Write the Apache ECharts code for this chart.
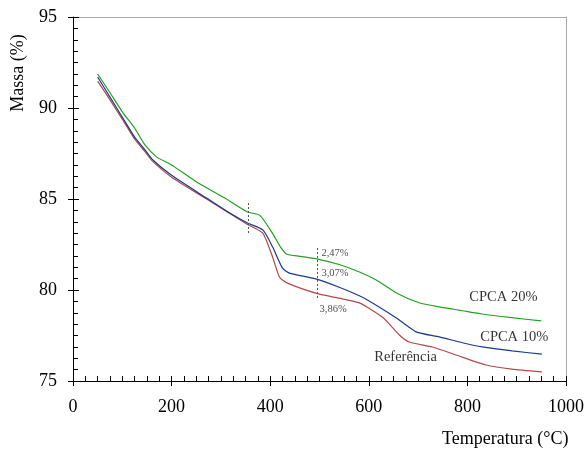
<!DOCTYPE html>
<html>
<head>
<meta charset="utf-8">
<script src="https://cdn.jsdelivr.net/npm/echarts@6/dist/echarts.min.js"></script>
<style>
html,body{margin:0;padding:0;background:#fff;}
#chart{width:587px;height:449px;}
</style>
</head>
<body>
<div id="chart"></div>
<script>
// ---- data ----
const tempCPCA20 = [50, 75, 101, 125, 146, 170, 200, 250, 308, 354, 379, 405, 420, 433, 460, 496, 540, 581, 615, 656, 702, 743, 790, 830, 890, 950];
const massCPCA20 = [91.87, 90.84, 89.75, 88.9, 87.97, 87.3, 86.87, 85.95, 85.05, 84.29, 84.1, 83.1, 82.4, 81.98, 81.85, 81.7, 81.4, 80.99, 80.55, 79.84, 79.3, 79.07, 78.86, 78.68, 78.48, 78.3];

const tempCPCA10 = [50, 75, 101, 125, 146, 162, 200, 271, 318, 354, 385, 405, 425, 439, 494, 540, 587, 620, 656, 696, 743, 790, 830, 891, 951];
const massCPCA10 = [91.7, 90.6, 89.45, 88.4, 87.7, 87.14, 86.3, 85.05, 84.23, 83.68, 83.3, 82.36, 81.2, 80.93, 80.6, 80.15, 79.6, 79.08, 78.46, 77.7, 77.42, 77.1, 76.87, 76.65, 76.48];

const tempRef = [50, 75, 101, 125, 146, 162, 200, 271, 318, 354, 385, 405, 419, 435, 496, 540, 581, 628, 662, 682, 729, 777, 838, 890, 951];
const massRef = [91.48, 90.45, 89.35, 88.3, 87.6, 87.05, 86.2, 85.0, 84.2, 83.6, 83.13, 81.8, 80.7, 80.38, 79.8, 79.55, 79.29, 78.5, 77.53, 77.14, 76.87, 76.43, 75.88, 75.65, 75.5];

const seriesNames = ['CPCA 20%', 'CPCA 10%', 'Referência'];

const xTicks = [0, 200, 400, 600, 800, 1000];
const yTicks = [75, 80, 85, 90, 95];

// vertical dotted markers
const markerTemp = [355, 496];
const markerTop = [84.78, 82.31];
const markerBottom = [83.02, 79.56];

// percentage annotations
const annoTemp = [504, 504, 500];
const annoMass = [82.0, 80.9, 78.95];
const annoText = ['2,47%', '3,07%', '3,86%'];

// curve name labels
const nameTemp = [804, 826, 611];
const nameMass = [79.6, 77.42, 76.32];

// ---- chart ----
const FONT = '"Liberation Serif", "Times New Roman", serif';
const colors = ['#22a022', '#1c3a8c', '#b5484a'];

function zip(xs, ys) { return xs.map((x, i) => [x, ys[i]]); }

const chart = echarts.init(document.getElementById('chart'), null, {renderer: 'canvas'});

const xRange = {type: 'value', min: xTicks[0], max: xTicks[xTicks.length - 1], interval: 200, splitLine: {show: false}};
const yRange = {type: 'value', min: yTicks[0], max: yTicks[yTicks.length - 1], interval: 5, splitLine: {show: false}};

const option = {
  animation: false,
  backgroundColor: '#fff',
  grid: {left: 73, right: 20, top: 17, bottom: 68, show: false},
  xAxis: [
    Object.assign({}, xRange, {
      position: 'bottom', z: 5,
      axisLine: {show: true, onZero: false, lineStyle: {color: '#000', width: 1}},
      axisTick: {show: true, inside: true, length: 5, lineStyle: {color: '#000', width: 1}},
      minorTick: {show: true, splitNumber: 8, length: 5, lineStyle: {color: '#000', width: 1}},
      axisLabel: {show: true, color: '#000', fontFamily: FONT, fontSize: 18, margin: 17,
        formatter: v => String(v)}
    }),
    Object.assign({}, xRange, {
      position: 'top',
      axisLine: {show: true, onZero: false, lineStyle: {color: '#a8a8a8', width: 1}},
      axisTick: {show: false}, axisLabel: {show: false}
    }),
    Object.assign({}, xRange, {
      position: 'bottom', z: 5,
      axisLine: {show: false, onZero: false},
      axisTick: {show: true, inside: false, length: 5, lineStyle: {color: '#000', width: 1}},
      axisLabel: {show: false}
    })
  ],
  yAxis: [
    Object.assign({}, yRange, {
      position: 'left', z: 5,
      axisLine: {show: true, onZero: false, lineStyle: {color: '#000', width: 1}},
      axisTick: {show: true, inside: true, length: 6, lineStyle: {color: '#000', width: 1}},
      minorTick: {show: true, splitNumber: 8, length: 5, lineStyle: {color: '#000', width: 1}},
      axisLabel: {show: true, color: '#000', fontFamily: FONT, fontSize: 18, margin: 16,
        formatter: v => String(v)}
    }),
    Object.assign({}, yRange, {
      position: 'right',
      axisLine: {show: true, onZero: false, lineStyle: {color: '#a8a8a8', width: 1}},
      axisTick: {show: false}, axisLabel: {show: false}
    }),
    Object.assign({}, yRange, {
      position: 'left', z: 5,
      axisLine: {show: false, onZero: false},
      axisTick: {show: true, inside: false, length: 5, lineStyle: {color: '#000', width: 1}},
      axisLabel: {show: false}
    })
  ],
  series: [
    {
      name: seriesNames[0], type: 'line', data: zip(tempCPCA20, massCPCA20),
      showSymbol: false, smooth: 0.2,
      lineStyle: {color: colors[0], width: 1.2}, z: 3
    },
    {
      name: seriesNames[1], type: 'line', data: zip(tempCPCA10, massCPCA10),
      showSymbol: false, smooth: 0.2,
      lineStyle: {color: colors[1], width: 1.2}, z: 4
    },
    {
      name: seriesNames[2], type: 'line', data: zip(tempRef, massRef),
      showSymbol: false, smooth: 0.2,
      lineStyle: {color: colors[2], width: 1.2}, z: 2,
      markLine: {
        silent: true, symbol: ['none', 'none'], label: {show: false},
        lineStyle: {color: '#555', type: [2, 2], width: 1},
        data: markerTemp.map((t, i) => [{coord: [t, markerTop[i]]}, {coord: [t, markerBottom[i]]}])
      }
    },
    {type: 'line', xAxisIndex: 1, yAxisIndex: 1, data: [], showSymbol: false},
    {type: 'line', xAxisIndex: 2, yAxisIndex: 2, data: [], showSymbol: false},
    {
      type: 'scatter', symbolSize: 0, silent: true,
      data: annoTemp.map((t, i) => ({value: [t, annoMass[i]], name: annoText[i]})),
      label: {show: true, position: 'right', distance: 0, formatter: p => p.name,
        fontFamily: FONT, fontSize: 10.5, color: '#222'}
    },
    {
      type: 'scatter', symbolSize: 0, silent: true,
      data: nameTemp.map((t, i) => ({value: [t, nameMass[i]], name: seriesNames[i]})),
      label: {show: true, position: 'right', distance: 0, formatter: p => p.name,
        fontFamily: FONT, fontSize: 14.5, color: '#000'}
    }
  ],
  graphic: [
    {type: 'text', left: 442, top: 430,
      style: {text: 'Temperatura (°C)', fontFamily: FONT, fontSize: 18, fill: '#000'}},
    {type: 'text', x: 18, y: 73, rotation: Math.PI / 2,
      style: {text: 'Massa (%)', fontFamily: FONT, fontSize: 18, fill: '#000', align: 'center', verticalAlign: 'middle'}}
  ]
};

chart.setOption(option);
</script>
</body>
</html>
